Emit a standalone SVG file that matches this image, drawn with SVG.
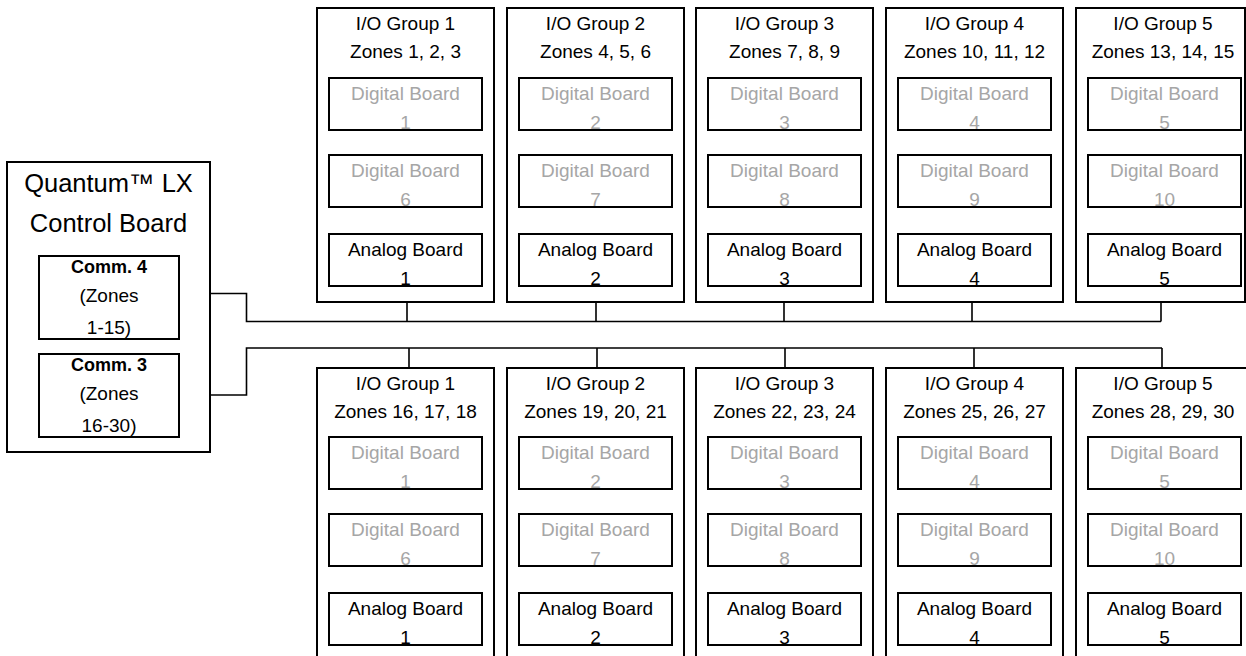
<svg xmlns="http://www.w3.org/2000/svg" width="1246" height="656" viewBox="0 0 1246 656">
<style>
.box{fill:#fff;stroke:#000;stroke-width:2}
.t{font-family:"Liberation Sans",Arial,sans-serif;font-size:19px;fill:#000;text-anchor:middle}
.g{fill:#a6a6a6}
.b{font-weight:bold;font-size:18px}
.title{font-size:25.5px}
.wire{fill:none;stroke:#000;stroke-width:1.6}
</style>
<rect width="1246" height="656" fill="#fff"/>

<g id="connectors">
<path class="wire" d="M180,293.5 H246.5 V321.5 H1161"/>
<path class="wire" d="M177,395 H246.5 V348 H1162"/>
<path class="wire" d="M407,302 V321.5 M596,302 V321.5 M784,302 V321.5 M972,302 V321.5 M1161,302 V321.5"/>
<path class="wire" d="M409,348 V368 M597,348 V368 M785,348 V368 M974,348 V368 M1162,348 V368"/>
</g>

<g id="control-board">
<rect class="box" x="7" y="162" width="203" height="290"/>
<text class="t title" x="108.5" y="192">Quantum™ LX</text>
<text class="t title" x="108.5" y="232">Control Board</text>
<g id="comm4">
<rect class="box" x="39" y="256" width="140" height="83"/>
<text class="t b" x="109" y="273">Comm. 4</text>
<text class="t" x="109" y="302">(Zones</text>
<text class="t" x="109" y="334">1-15)</text>
</g>
<g id="comm3">
<rect class="box" x="39" y="354" width="140" height="83"/>
<text class="t b" x="109" y="371">Comm. 3</text>
<text class="t" x="109" y="400">(Zones</text>
<text class="t" x="109" y="432">16-30)</text>
</g>
</g>

<!-- Top row -->
<g id="top-group1">
<rect class="box" x="317" y="8" width="177" height="294"/>
<text class="t" x="405.5" y="30">I/O Group 1</text>
<text class="t" x="405.5" y="58">Zones 1, 2, 3</text>
<rect class="box" x="329" y="78" width="153" height="52"/>
<text class="t g" x="405.5" y="100">Digital Board</text><text class="t g" x="405.5" y="129">1</text>
<rect class="box" x="329" y="155" width="153" height="52"/>
<text class="t g" x="405.5" y="177">Digital Board</text><text class="t g" x="405.5" y="206">6</text>
<rect class="box" x="329" y="234" width="153" height="52"/>
<text class="t" x="405.5" y="256">Analog Board</text><text class="t" x="405.5" y="285">1</text>
</g>
<g id="top-group2">
<rect class="box" x="507" y="8" width="177" height="294"/>
<text class="t" x="595.5" y="30">I/O Group 2</text>
<text class="t" x="595.5" y="58">Zones 4, 5, 6</text>
<rect class="box" x="519" y="78" width="153" height="52"/>
<text class="t g" x="595.5" y="100">Digital Board</text><text class="t g" x="595.5" y="129">2</text>
<rect class="box" x="519" y="155" width="153" height="52"/>
<text class="t g" x="595.5" y="177">Digital Board</text><text class="t g" x="595.5" y="206">7</text>
<rect class="box" x="519" y="234" width="153" height="52"/>
<text class="t" x="595.5" y="256">Analog Board</text><text class="t" x="595.5" y="285">2</text>
</g>
<g id="top-group3">
<rect class="box" x="696" y="8" width="177" height="294"/>
<text class="t" x="784.5" y="30">I/O Group 3</text>
<text class="t" x="784.5" y="58">Zones 7, 8, 9</text>
<rect class="box" x="708" y="78" width="153" height="52"/>
<text class="t g" x="784.5" y="100">Digital Board</text><text class="t g" x="784.5" y="129">3</text>
<rect class="box" x="708" y="155" width="153" height="52"/>
<text class="t g" x="784.5" y="177">Digital Board</text><text class="t g" x="784.5" y="206">8</text>
<rect class="box" x="708" y="234" width="153" height="52"/>
<text class="t" x="784.5" y="256">Analog Board</text><text class="t" x="784.5" y="285">3</text>
</g>
<g id="top-group4">
<rect class="box" x="886" y="8" width="177" height="294"/>
<text class="t" x="974.5" y="30">I/O Group 4</text>
<text class="t" x="974.5" y="58">Zones 10, 11, 12</text>
<rect class="box" x="898" y="78" width="153" height="52"/>
<text class="t g" x="974.5" y="100">Digital Board</text><text class="t g" x="974.5" y="129">4</text>
<rect class="box" x="898" y="155" width="153" height="52"/>
<text class="t g" x="974.5" y="177">Digital Board</text><text class="t g" x="974.5" y="206">9</text>
<rect class="box" x="898" y="234" width="153" height="52"/>
<text class="t" x="974.5" y="256">Analog Board</text><text class="t" x="974.5" y="285">4</text>
</g>
<g id="top-group5">
<rect class="box" x="1076" y="8" width="169" height="294"/>
<text class="t" x="1163" y="30">I/O Group 5</text>
<text class="t" x="1163" y="58">Zones 13, 14, 15</text>
<rect class="box" x="1088" y="78" width="153" height="52"/>
<text class="t g" x="1164.5" y="100">Digital Board</text><text class="t g" x="1164.5" y="129">5</text>
<rect class="box" x="1088" y="155" width="153" height="52"/>
<text class="t g" x="1164.5" y="177">Digital Board</text><text class="t g" x="1164.5" y="206">10</text>
<rect class="box" x="1088" y="234" width="153" height="52"/>
<text class="t" x="1164.5" y="256">Analog Board</text><text class="t" x="1164.5" y="285">5</text>
</g>

<!-- Bottom row -->
<g id="bottom-group1">
<rect class="box" x="317" y="368" width="177" height="300"/>
<text class="t" x="405.5" y="390">I/O Group 1</text>
<text class="t" x="405.5" y="418">Zones 16, 17, 18</text>
<rect class="box" x="329" y="437" width="153" height="52"/>
<text class="t g" x="405.5" y="459">Digital Board</text><text class="t g" x="405.5" y="488">1</text>
<rect class="box" x="329" y="514" width="153" height="52"/>
<text class="t g" x="405.5" y="536">Digital Board</text><text class="t g" x="405.5" y="565">6</text>
<rect class="box" x="329" y="593" width="153" height="52"/>
<text class="t" x="405.5" y="615">Analog Board</text><text class="t" x="405.5" y="644">1</text>
</g>
<g id="bottom-group2">
<rect class="box" x="507" y="368" width="177" height="300"/>
<text class="t" x="595.5" y="390">I/O Group 2</text>
<text class="t" x="595.5" y="418">Zones 19, 20, 21</text>
<rect class="box" x="519" y="437" width="153" height="52"/>
<text class="t g" x="595.5" y="459">Digital Board</text><text class="t g" x="595.5" y="488">2</text>
<rect class="box" x="519" y="514" width="153" height="52"/>
<text class="t g" x="595.5" y="536">Digital Board</text><text class="t g" x="595.5" y="565">7</text>
<rect class="box" x="519" y="593" width="153" height="52"/>
<text class="t" x="595.5" y="615">Analog Board</text><text class="t" x="595.5" y="644">2</text>
</g>
<g id="bottom-group3">
<rect class="box" x="696" y="368" width="177" height="300"/>
<text class="t" x="784.5" y="390">I/O Group 3</text>
<text class="t" x="784.5" y="418">Zones 22, 23, 24</text>
<rect class="box" x="708" y="437" width="153" height="52"/>
<text class="t g" x="784.5" y="459">Digital Board</text><text class="t g" x="784.5" y="488">3</text>
<rect class="box" x="708" y="514" width="153" height="52"/>
<text class="t g" x="784.5" y="536">Digital Board</text><text class="t g" x="784.5" y="565">8</text>
<rect class="box" x="708" y="593" width="153" height="52"/>
<text class="t" x="784.5" y="615">Analog Board</text><text class="t" x="784.5" y="644">3</text>
</g>
<g id="bottom-group4">
<rect class="box" x="886" y="368" width="177" height="300"/>
<text class="t" x="974.5" y="390">I/O Group 4</text>
<text class="t" x="974.5" y="418">Zones 25, 26, 27</text>
<rect class="box" x="898" y="437" width="153" height="52"/>
<text class="t g" x="974.5" y="459">Digital Board</text><text class="t g" x="974.5" y="488">4</text>
<rect class="box" x="898" y="514" width="153" height="52"/>
<text class="t g" x="974.5" y="536">Digital Board</text><text class="t g" x="974.5" y="565">9</text>
<rect class="box" x="898" y="593" width="153" height="52"/>
<text class="t" x="974.5" y="615">Analog Board</text><text class="t" x="974.5" y="644">4</text>
</g>
<g id="bottom-group5">
<rect class="box" x="1076" y="368" width="174" height="300"/>
<text class="t" x="1163" y="390">I/O Group 5</text>
<text class="t" x="1163" y="418">Zones 28, 29, 30</text>
<rect class="box" x="1088" y="437" width="153" height="52"/>
<text class="t g" x="1164.5" y="459">Digital Board</text><text class="t g" x="1164.5" y="488">5</text>
<rect class="box" x="1088" y="514" width="153" height="52"/>
<text class="t g" x="1164.5" y="536">Digital Board</text><text class="t g" x="1164.5" y="565">10</text>
<rect class="box" x="1088" y="593" width="153" height="52"/>
<text class="t" x="1164.5" y="615">Analog Board</text><text class="t" x="1164.5" y="644">5</text>
</g>
</svg>
